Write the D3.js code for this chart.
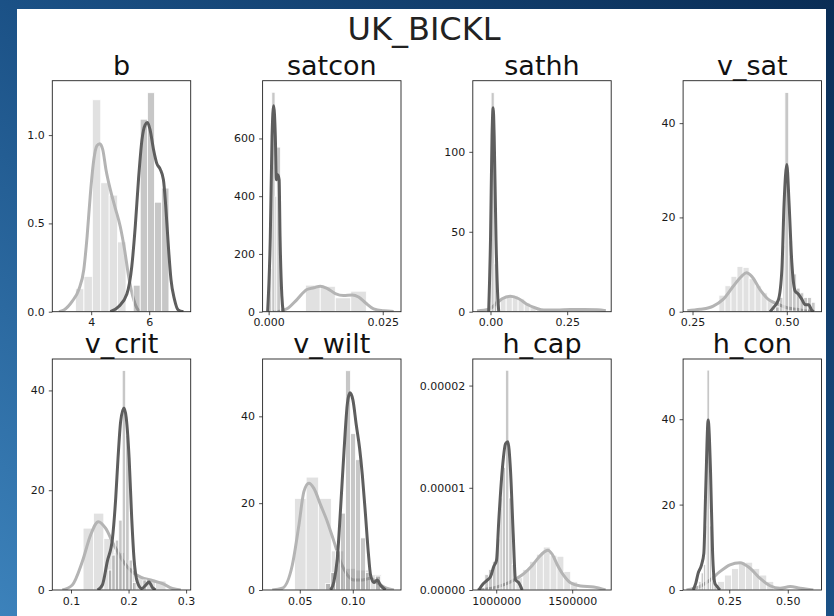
<!DOCTYPE html>
<html>
<head>
<meta charset="utf-8">
<script src="https://cdn.jsdelivr.net/npm/d3@7"></script>
<style>
  body { margin: 0; background: #1a4a78; }
  text { font-family: "DejaVu Sans", sans-serif; }
</style>
</head>
<body>
<div id="mount"></div>
<script>
// values: histograms as [x0, x1, height], kde curves as [x, y]
var names = ['b', 'satcon', 'sathh', 'v_sat', 'v_crit', 'v_wilt', 'h_cap', 'h_con'];

var b_light_hist = [[3.46,3.75,0.13],[3.75,4.04,0.20],[4.04,4.33,1.20],[4.33,4.62,0.73],[4.62,4.91,0.66],[4.91,5.20,0.395]];
var b_dark_hist = [[5.45,5.69,0.15],[5.69,5.94,1.09],[5.94,6.18,1.24],[6.18,6.43,0.62],[6.43,6.68,0.70]];
var b_light_kde = [[2.89,0],[3.06,0.01],[3.35,0.06],[3.575,0.126],[3.746,0.239],[3.86,0.427],[3.975,0.672],[4.09,0.86],[4.2,0.94],[4.295,0.951],[4.40,0.917],[4.51,0.804],[4.66,0.691],[4.83,0.587],[5.0,0.484],[5.15,0.352],[5.29,0.201],[5.43,0.09],[5.58,0.02],[5.69,0]];
var b_dark_kde = [[4.66,0],[4.95,0.03],[5.23,0.1],[5.40,0.257],[5.52,0.484],[5.63,0.747],[5.75,0.973],[5.86,1.058],[5.94,1.071],[6.03,1.03],[6.15,0.917],[6.26,0.84],[6.38,0.807],[6.49,0.747],[6.57,0.597],[6.66,0.371],[6.75,0.183],[6.87,0.07],[7.0,0.01],[7.18,0]];

var satcon_light_hist = [[0.0081,0.0113,92],[0.0113,0.0146,88],[0.0146,0.0180,48],[0.0180,0.0214,71]];
var satcon_dark_hist = [[0.0000,0.0007,150],[0.0007,0.0014,760],[0.0014,0.0018,400],[0.0018,0.0026,570],[0.0026,0.0030,60]];
var satcon_light_kde = [[0.001,0],[0.0026,2],[0.004,10],[0.0062,42],[0.0084,77],[0.0099,83],[0.01134,88.5],[0.0128,81],[0.0146,63],[0.0164,56],[0.0183,58],[0.0197,51],[0.0212,31],[0.0230,10],[0.0252,3],[0.0274,1]];
var satcon_dark_kde = [[-0.00022,0],[0.00037,261],[0.00075,607],[0.0011,713],[0.00147,607],[0.0017,457],[0.0020,474],[0.0023,457],[0.0025,261],[0.0029,54],[0.0032,0]];

var sathh_light_hist = [[0.012,0.032,7],[0.032,0.051,9],[0.051,0.071,10],[0.071,0.090,10],[0.090,0.110,8],[0.110,0.129,5.5],[0.129,0.149,3],[0.149,0.168,1.5],[0.286,0.306,0.8],[0.345,0.365,0.8]];
var sathh_dark_hist = [[-0.002,0.002,20],[0.002,0.012,137],[0.012,0.020,30]];
var sathh_light_kde = [[-0.044,0.5],[-0.0054,1.5],[0.0218,5.6],[0.038,8.1],[0.0652,9.7],[0.0924,8.1],[0.12,4.5],[0.147,2.3],[0.174,1.0],[0.217,1.0],[0.26,1.4],[0.305,1.4],[0.349,1.2],[0.376,0.6]];
var sathh_dark_kde = [[-0.006,0],[0.0,45],[0.005,110],[0.0087,127.6],[0.012,110],[0.018,45],[0.024,8],[0.027,0]];

var v_sat_light_hist = [[0.320,0.336,3.5],[0.336,0.352,5.5],[0.352,0.368,7.5],[0.368,0.384,9.6],[0.384,0.400,9.4],[0.400,0.416,7.0],[0.416,0.432,5.5],[0.432,0.448,4.0],[0.448,0.464,2.5],[0.464,0.480,1.5]];
var v_sat_dark_hist = [[0.470,0.480,1],[0.480,0.490,3],[0.490,0.495,14],[0.495,0.505,46.5],[0.505,0.515,15],[0.515,0.525,8],[0.525,0.535,5],[0.535,0.545,4],[0.545,0.555,3],[0.555,0.565,3],[0.565,0.575,2]];
var v_sat_light_kde = [[0.236,0.2],[0.27,0.5],[0.305,1.2],[0.331,2.6],[0.358,5.4],[0.38,7.5],[0.393,8.25],[0.407,7.5],[0.429,4.7],[0.451,2.6],[0.473,1.7],[0.5,0.85],[0.527,0.5],[0.553,0.15],[0.57,0]];
var v_sat_dark_kde = [[0.4556,0],[0.4645,0.85],[0.478,2.6],[0.487,9],[0.4928,23],[0.5,31.2],[0.506,23],[0.5133,10.4],[0.522,4.4],[0.531,3.7],[0.54,2.6],[0.549,1.5],[0.558,1.5],[0.566,0.3],[0.572,0]];

var v_crit_light_hist = [[0.121,0.139,12.4],[0.139,0.157,15.4],[0.157,0.175,10.3],[0.175,0.193,7.5],[0.193,0.211,4.5],[0.211,0.229,2.5],[0.229,0.247,2.2],[0.247,0.265,1.8]];
var v_crit_dark_hist = [[0.165,0.171,4],[0.171,0.177,7],[0.177,0.183,10],[0.183,0.189,14],[0.189,0.195,44],[0.195,0.201,31],[0.201,0.207,6],[0.207,0.213,1.5],[0.225,0.231,2]];
var v_crit_light_kde = [[0.085,0],[0.1023,1],[0.1197,5.7],[0.134,11],[0.1475,13.7],[0.16,12.4],[0.1747,9.0],[0.1892,6.0],[0.2066,3.6],[0.221,2.6],[0.2414,1.9],[0.2588,1.3],[0.2762,0.3],[0.2907,0]];
var v_crit_dark_kde = [[0.146,0],[0.1545,1.0],[0.163,5.7],[0.172,10.3],[0.1777,18.4],[0.1817,26.4],[0.1863,33.8],[0.192,36.5],[0.196,34.5],[0.201,26.4],[0.2055,14.4],[0.2095,6.3],[0.2153,1.6],[0.223,0.3],[0.230,1.0],[0.2356,1.6],[0.2414,0.5],[0.247,0]];

var v_wilt_light_hist = [[0.0451,0.0560,21.1],[0.0560,0.0675,26.0],[0.0675,0.0797,21.1],[0.0797,0.0915,9],[0.0915,0.1030,5],[0.1030,0.1150,4.6],[0.1150,0.1270,3.5]];
var v_wilt_dark_hist = [[0.0744,0.0791,1.5],[0.0791,0.0838,4],[0.0838,0.0885,9],[0.0885,0.0932,17.7],[0.0932,0.0979,50.5],[0.0979,0.1026,36],[0.1026,0.1073,30],[0.1073,0.1120,12],[0.1120,0.1167,4],[0.1214,0.1261,3.2]];
var v_wilt_light_kde = [[0.024,0],[0.0335,0.4],[0.0429,5.7],[0.0492,15],[0.0539,22.7],[0.0586,24.6],[0.0633,23.4],[0.0696,19.6],[0.0759,15.8],[0.0822,11.2],[0.0885,6.5],[0.0948,3.5],[0.101,2.3],[0.109,2.3],[0.1168,2.7],[0.123,1.7],[0.131,0.5],[0.1388,0]];
var v_wilt_dark_kde = [[0.079,0],[0.0822,1.9],[0.0854,7.3],[0.0885,18.8],[0.0917,31.9],[0.0948,42.7],[0.0973,45.4],[0.1001,43.8],[0.1033,38.0],[0.1064,32.7],[0.109,26.5],[0.112,17.3],[0.1146,8.8],[0.1168,3.4],[0.12,1.7],[0.123,2.3],[0.1262,1.1],[0.131,0]];

var h_cap_light_hist = [[1130000,1175000,0.12e-5],[1175000,1220000,0.20e-5],[1220000,1265000,0.28e-5],[1265000,1310000,0.35e-5],[1310000,1355000,0.42e-5],[1355000,1400000,0.34e-5],[1400000,1445000,0.33e-5],[1445000,1490000,0.18e-5],[1490000,1535000,0.08e-5]];
var h_cap_dark_hist = [[925000,950000,0.15e-5],[950000,975000,0.20e-5],[975000,1000000,0.28e-5],[1000000,1025000,0.5e-5],[1025000,1040000,0.9e-5],[1040000,1062000,1.2e-5],[1062000,1083000,2.15e-5],[1083000,1105000,0.9e-5],[1105000,1127000,0.25e-5]];
var h_cap_light_kde = [[875000,0],[1006500,0.03e-5],[1094000,0.08e-5],[1181700,0.16e-5],[1236700,0.24e-5],[1280500,0.32e-5],[1313400,0.37e-5],[1340000,0.39e-5],[1368400,0.35e-5],[1401000,0.25e-5],[1445000,0.14e-5],[1489000,0.07e-5],[1555000,0.04e-5],[1642000,0.03e-5],[1719000,0]];
var h_cap_dark_kde = [[885500,0],[914400,0.06e-5],[936000,0.09e-5],[962500,0.13e-5],[984000,0.23e-5],[1002000,0.29e-5],[1017000,0.68e-5],[1039500,1.17e-5],[1061200,1.43e-5],[1076500,1.45e-5],[1094000,1.17e-5],[1111800,0.55e-5],[1127000,0.10e-5],[1149000,0.07e-5],[1171000,0]];

var h_con_light_hist = [[0.20,0.23,2],[0.23,0.26,3.5],[0.26,0.29,5],[0.29,0.32,6.5],[0.32,0.35,6.5],[0.35,0.38,5],[0.38,0.41,3.5],[0.41,0.44,2]];
var h_con_dark_hist = [[0.12,0.13,2],[0.13,0.14,4],[0.14,0.15,6],[0.15,0.155,15],[0.155,0.166,51.5],[0.166,0.175,15],[0.175,0.185,4],[0.185,0.195,1]];
var h_con_light_kde = [[0.0675,0],[0.124,0.8],[0.167,2.3],[0.21,4.3],[0.253,5.9],[0.296,6.4],[0.339,5.1],[0.382,2.7],[0.424,1.0],[0.467,0.4],[0.51,0.8],[0.553,0.4],[0.609,0]];
var h_con_dark_kde = [[0.0958,0],[0.1073,1.6],[0.117,3.9],[0.1317,5.9],[0.1415,8.6],[0.15,24.3],[0.16,39.8],[0.1703,27.4],[0.179,8.6],[0.1887,1.6],[0.1985,0.8],[0.21,0]];

// axis limits and ticks of each panel
var xDomains = [[2.66,7.43],[-0.00132,0.0290],[-0.0577,0.3935],[0.225,0.592],[0.0675,0.308],[0.0149,0.1455],[846000,1756600],[0.053,0.644]];
var yDomains = [[0,1.308],[0,800],[0,144.5],[0,49],[0,46.3],[0,53.2],[0,2.26e-5],[0,54.1]];
var xTicks = [[4,6],[0,0.025],[0,0.25],[0.25,0.5],[0.1,0.2,0.3],[0.05,0.10],[1000000,1500000],[0.25,0.5]];
var yTicks = [[0,0.5,1.0],[0,200,400,600],[0,50,100],[0,20,40],[0,20,40],[0,20,40],[0,0.00001,0.00002],[0,20,40]];
var xFormats = ['d','.3f','.2f','.2f','.1f','.2f','d','.2f'];
var yFormats = ['.1f','d','d','d','d','d','.5f','d'];

var lightHists = [b_light_hist, satcon_light_hist, sathh_light_hist, v_sat_light_hist, v_crit_light_hist, v_wilt_light_hist, h_cap_light_hist, h_con_light_hist];
var darkHists = [b_dark_hist, satcon_dark_hist, sathh_dark_hist, v_sat_dark_hist, v_crit_dark_hist, v_wilt_dark_hist, h_cap_dark_hist, h_con_dark_hist];
var lightKdes = [b_light_kde, satcon_light_kde, sathh_light_kde, v_sat_light_kde, v_crit_light_kde, v_wilt_light_kde, h_cap_light_kde, h_con_light_kde];
var darkKdes = [b_dark_kde, satcon_dark_kde, sathh_dark_kde, v_sat_dark_kde, v_crit_dark_kde, v_wilt_dark_kde, h_cap_dark_kde, h_con_dark_kde];

var W = 834, H = 616;
var axLeft = [52.3, 262.6, 472.8, 683.1];
var axTop = [80.7, 359];
var axW = 138.4, axH = 231;
var LIGHT = '#b4b4b4', DARK = '#5e5e5e';

var svg = d3.select('#mount').append('svg')
  .attr('width', W)
  .attr('height', H);

var defs = svg.append('defs');
var grad = defs.append('linearGradient')
  .attr('id', 'bg')
  .attr('x1', '0').attr('y1', '1')
  .attr('x2', '1').attr('y2', '0');
grad.append('stop').attr('offset', '0').attr('stop-color', '#3c82bb');
grad.append('stop').attr('offset', '0.5').attr('stop-color', '#1b5186');
grad.append('stop').attr('offset', '1').attr('stop-color', '#0a2d55');

svg.append('rect').attr('width', W).attr('height', H).attr('fill', 'url(#bg)');
svg.append('rect')
  .attr('x', 17).attr('y', 9)
  .attr('width', 809).attr('height', H - 9)
  .attr('fill', '#fff');

svg.append('text')
  .attr('x', 424)
  .attr('y', 40)
  .attr('text-anchor', 'middle')
  .style('font-size', '32px')
  .attr('fill', '#222')
  .text('UK_BICKL');

function drawHist (g, bins, x, y, color, alpha) {
  g.append('g').selectAll('rect')
    .data(bins)
    .enter()
    .append('rect')
    .attr('x', function (d) { return x(d[0]); })
    .attr('y', function (d) { return y(d[2]); })
    .attr('width', function (d) { return Math.max(0.8, x(d[1]) - x(d[0])); })
    .attr('height', function (d) { return y(0) - y(d[2]); })
    .attr('fill', color)
    .attr('fill-opacity', alpha)
    .attr('stroke', '#fff')
    .attr('stroke-width', 0.8);
}

function drawKde (g, pts, x, y, color) {
  var line = d3.line()
    .x(function (d) { return x(d[0]); })
    .y(function (d) { return y(d[1]); })
    .curve(d3.curveMonotoneX);
  g.append('path')
    .attr('d', line(pts))
    .attr('fill', 'none')
    .attr('stroke', color)
    .attr('stroke-width', 3)
    .attr('stroke-linejoin', 'round');
}

names.forEach(function (name, i) {
  var col = i % 4, row = Math.floor(i / 4);
  var x = d3.scaleLinear().domain(xDomains[i]).range([0, axW]);
  var y = d3.scaleLinear().domain(yDomains[i]).range([axH, 0]);

  var g = svg.append('g')
    .attr('transform', 'translate(' + axLeft[col] + ',' + axTop[row] + ')');

  defs.append('clipPath').attr('id', 'clip' + i)
    .append('rect').attr('width', axW).attr('height', axH);

  var plot = g.append('g').attr('clip-path', 'url(#clip' + i + ')');
  drawHist(plot, lightHists[i], x, y, LIGHT, 0.4);
  drawKde(plot, lightKdes[i], x, y, LIGHT);
  drawHist(plot, darkHists[i], x, y, DARK, 0.35);
  drawKde(plot, darkKdes[i], x, y, DARK);

  var xAxis = d3.axisBottom(x)
    .tickValues(xTicks[i])
    .tickFormat(d3.format(xFormats[i]))
    .tickSizeInner(3.5).tickSizeOuter(0).tickPadding(3.5);
  var yAxis = d3.axisLeft(y)
    .tickValues(yTicks[i])
    .tickFormat(d3.format(yFormats[i]))
    .tickSizeInner(3.5).tickSizeOuter(0).tickPadding(4);

  var gx = g.append('g').attr('transform', 'translate(0,' + axH + ')').call(xAxis);
  var gy = g.append('g').call(yAxis);
  [gx, gy].forEach(function (a) {
    a.select('.domain').remove();
    a.selectAll('line').attr('stroke', '#222').attr('stroke-width', 0.8);
    a.selectAll('text')
      .attr('fill', '#1a1a1a')
      .style('font-size', '11px')
      .style('font-family', '"DejaVu Sans", sans-serif');
  });

  g.append('rect')
    .attr('width', axW).attr('height', axH)
    .attr('fill', 'none')
    .attr('stroke', '#222')
    .attr('stroke-width', 0.9);

  g.append('text')
    .attr('x', axW / 2)
    .attr('y', -6)
    .attr('text-anchor', 'middle')
    .style('font-size', '27px')
    .attr('fill', '#111')
    .text(name);
});
</script>
</body>
</html>
